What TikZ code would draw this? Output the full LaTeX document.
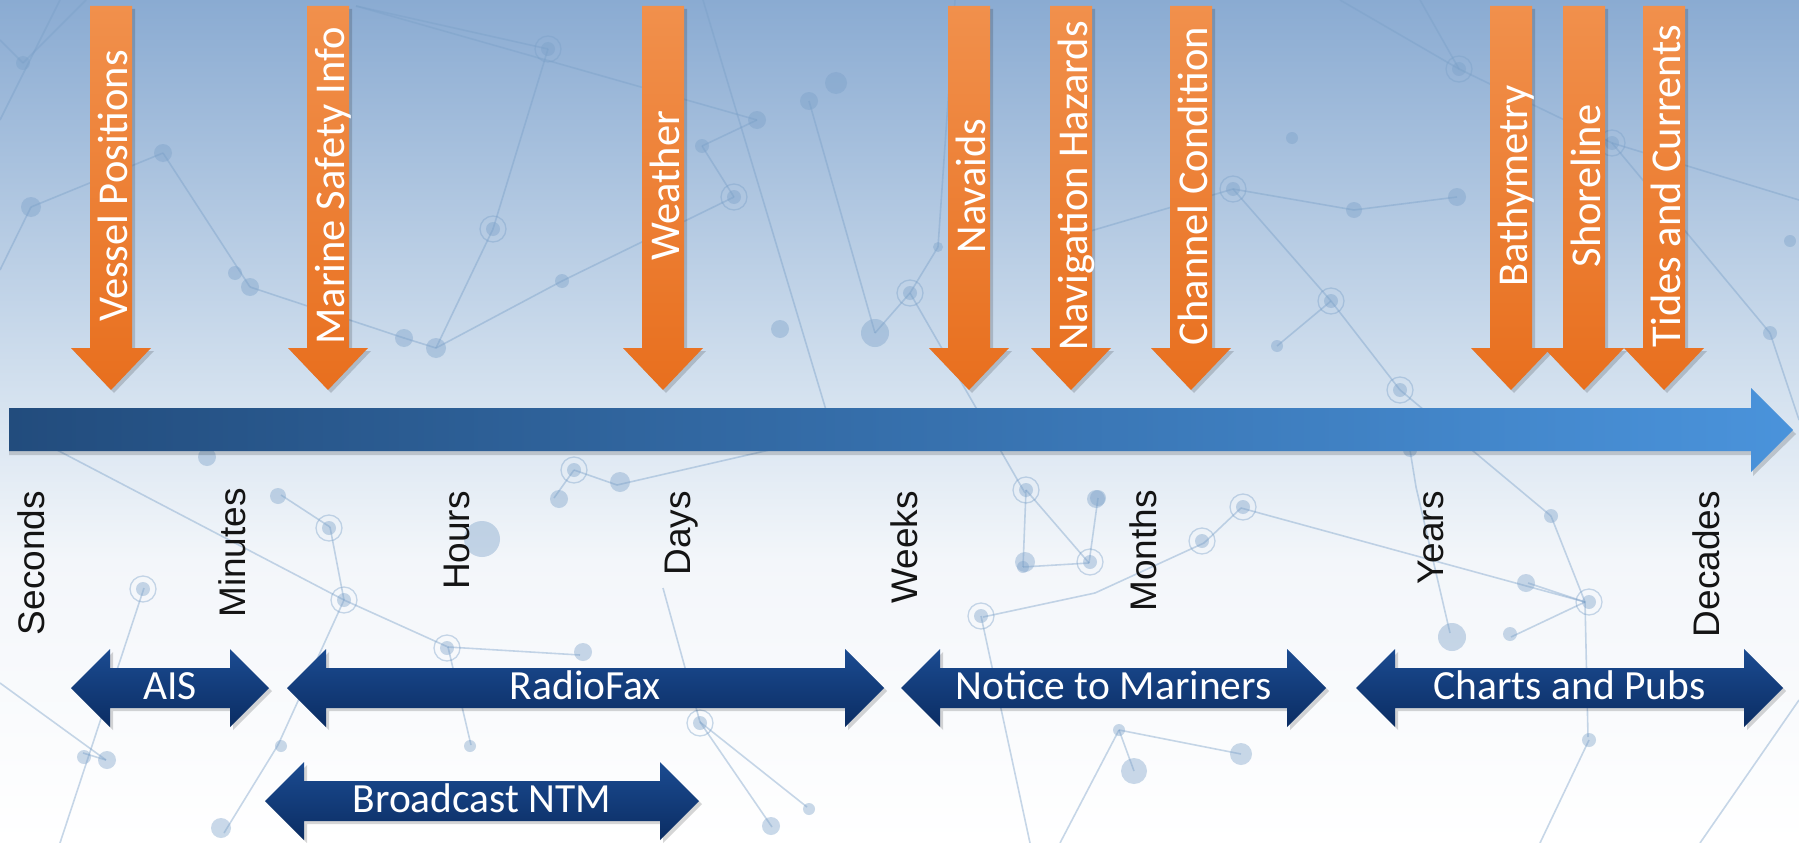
\documentclass[tikz,border=0pt]{standalone}
\usepackage{fontspec}
\setmainfont{Carlito}
\newfontfamily\timefont{Liberation Sans}
\definecolor{bgA}{HTML}{8AABD2}
\definecolor{bgB}{HTML}{D9E5F1}
\definecolor{bgC}{HTML}{F3F6FA}
\definecolor{orA}{HTML}{F1904C}
\definecolor{orB}{HTML}{E86F1E}
\definecolor{nvA}{HTML}{1B4B91}
\definecolor{nvB}{HTML}{0B2D63}
\definecolor{barA}{HTML}{224C7D}
\definecolor{barB}{HTML}{4A93DB}
\definecolor{net}{HTML}{7AA0C8}
\tikzset{
  orlabel/.style={text=white, rotate=90, anchor=mid, inner sep=0pt, font=\fontsize{42.5}{50}\selectfont},
  timelabel/.style={text=black!92, rotate=90, anchor=mid east, inner sep=0pt, font=\timefont\fontsize{37}{44}\selectfont},
  bluelabel/.style={text=white, anchor=mid, inner sep=0pt, font=\fontsize{41.5}{49}\selectfont},
  orfill/.style={top color=orA, bottom color=orB},
  bluefill/.style={top color=nvA, bottom color=nvB},
  shadowfill/.style={fill=black, opacity=0.16},
  netline/.style={draw=net, opacity=0.42, line width=1.6pt},
  netdot/.style={fill=net, opacity=0.4},
  netring/.style={draw=net, opacity=0.4, line width=1.3pt},
}
\newcommand\OrArr[3]{%
  \fill[shadowfill] (#2-21+3,-9) -- (#2+21+3,-9) -- (#2+21+3,-351) -- (#2+40+3,-351) -- (#2+3,-393) -- (#2-40+3,-351) -- (#2-21+3,-351) -- cycle;
  \shade[orfill] (#2-21,-6) -- (#2+21,-6) -- (#2+21,-348) -- (#2+40,-348) -- (#2,-390) -- (#2-40,-348) -- (#2-21,-348) -- cycle;
  \node[orlabel] (#1) at (#2+14,-186) {#3};}
\newcommand\DblArr[5]{%
  \fill[shadowfill] (#2+3,-#4-3) -- (#2+39+3,-#4+39-3) -- (#2+39+3,-#4+20-3) -- (#3-39+3,-#4+20-3) -- (#3-39+3,-#4+39-3) -- (#3+3,-#4-3) -- (#3-39+3,-#4-39-3) -- (#3-39+3,-#4-20-3) -- (#2+39+3,-#4-20-3) -- (#2+39+3,-#4-39-3) -- cycle;
  \shade[bluefill] (#2,-#4) -- (#2+39,-#4+39) -- (#2+39,-#4+20) -- (#3-39,-#4+20) -- (#3-39,-#4+39) -- (#3,-#4) -- (#3-39,-#4-39) -- (#3-39,-#4-20) -- (#2+39,-#4-20) -- (#2+39,-#4-39) -- cycle;
  \node[bluelabel] (#1) at ({(#2+#3)/2},{-#4-9}) {#5};}
\begin{document}
\begin{tikzpicture}[x=1pt,y=1pt]
\useasboundingbox (0,0) rectangle (1799,-843);
% background
\shade[top color=bgA,bottom color=bgB] (0,0) rectangle (1799,-420);
\shade[top color=bgB,bottom color=bgC] (0,-420) rectangle (1799,-560);
\shade[top color=bgC,bottom color=white] (0,-560) rectangle (1799,-843);
% network decoration
\begin{scope}
\clip (0,0) rectangle (1799,-843);
\foreach \xa/\ya/\xb/\yb in {23/63/86/0, 0/40/23/63, 31/207/163/153, 31/207/0/270,
  163/153/250/287, 250/287/404/338, 404/338/436/348, 436/348/493/229, 493/229/548/49,
  548/49/356/6, 356/6/757/120, 757/120/702/146, 702/146/734/197, 734/197/562/281,
  562/281/436/348, 809/101/875/333, 875/333/910/293, 910/293/938/247, 938/247/955/0,
  910/293/1025/493, 703/0/826/410, 1233/189/1354/210, 1233/189/1331/301, 1233/189/1060/240,
  1331/301/1277/346, 1331/301/1400/390, 1354/210/1457/197, 1459/69/1612/143, 1459/69/1420/0,
  1459/69/1340/0, 1612/143/1799/200, 1612/143/1770/333, 1400/390/1551/516, 1551/516/1585/602,
  1528/583/1585/602, 1511/637/1585/602, 1588/737/1585/602, 1241/508/1585/602, 1204/543/1241/508,
  1095/593/1204/543, 983/617/1095/593, 1026/490/1023/567, 1023/567/1089/563, 1026/490/1089/563,
  1089/563/1098/498, 1416/487/1410/450, 1416/487/1450/633, 57/450/344/600, 344/600/330/527,
  330/527/281/495, 344/600/448/647, 448/647/471/745, 448/647/580/655, 574/470/617/485,
  617/485/900/420, 554/498/574/470, 0/683/106/760, 106/760/83/753, 700/722/807/807,
  700/722/772/827, 700/722/663/588, 224/833/278/745, 278/745/344/600, 1119/730/1134/771,
  1119/730/1241/754, 981/616/1030/843, 1119/730/1060/843, 1589/740/1540/843, 1770/333/1799/420,
  0/120/60/0, 1700/843/1799/700, 144/588/60/843}
  \draw[netline] (\xa,-\ya) -- (\xb,-\yb);
\foreach \xa/\ya/\r in {23/63/7, 31/207/10, 163/153/9, 250/287/9, 235/273/7, 404/338/9,
  436/348/10, 562/281/7, 620/482/10, 702/146/7, 757/120/9, 836/83/11, 809/101/9, 875/333/14,
  780/329/9, 938/247/5, 1277/346/6, 1292/138/6, 1354/210/8, 1457/197/9, 1770/333/7,
  1790/241/6, 1510/634/7, 1452/637/14, 1526/583/9, 1551/516/7, 1025/562/10, 1096/499/9,
  1134/771/13, 1241/754/11, 1119/730/6, 1589/740/7, 84/757/7, 107/760/9, 221/828/10,
  281/746/6, 470/746/6, 809/809/6, 771/826/9, 278/496/8, 207/457/9, 559/499/9, 482/539/18,
  1410/450/7, 1023/567/6, 1098/498/8, 583/652/9}
  \fill[netdot] (\xa,-\ya) circle (\r);
\foreach \xa/\ya in {548/49, 493/229, 734/197, 910/293, 1233/189, 1331/301, 1459/69, 1612/143,
  1400/390, 1589/602, 1243/507, 1090/562, 1026/490, 981/616, 1202/541, 344/600, 329/528,
  143/589, 574/470, 700/723, 447/648}
  {\draw[netring] (\xa,-\ya) circle (13); \fill[netdot] (\xa,-\ya) circle (7);}
\end{scope}
% main time axis arrow
\fill[shadowfill] (9,-412) -- (1753,-412) -- (1753,-392) -- (1796,-434) -- (1753,-476) -- (1753,-455) -- (9,-455) -- cycle;
\shade[left color=barA, right color=barB] (9,-408) -- (1751,-408) -- (1751,-388) -- (1793,-430) -- (1751,-472) -- (1751,-451) -- (9,-451) -- cycle;
% orange information arrows
\OrArr{vessel}{111}{Vessel Positions}
\OrArr{msi}{328}{Marine Safety Info}
\OrArr{weather}{663}{Weather}
\OrArr{navaids}{969}{Navaids}
\OrArr{navhaz}{1071}{Navigation Hazards}
\OrArr{channel}{1191}{Channel Condition}
\OrArr{bathy}{1511}{Bathymetry}
\OrArr{shore}{1584}{Shoreline}
\OrArr{tides}{1664}{Tides and Currents}
% time scale labels
\node[timelabel] (seconds) at (42.5,-491) {Seconds};
\node[timelabel] (minutes) at (243.5,-488) {Minutes};
\node[timelabel] (hours) at (467.5,-491) {Hours};
\node[timelabel] (days) at (688.5,-491) {Days};
\node[timelabel] (weeks) at (915.5,-491) {Weeks};
\node[timelabel] (months) at (1154.5,-490) {Months};
\node[timelabel] (years) at (1441.5,-491) {Years};
\node[timelabel] (decades) at (1717.5,-491) {Decades};
% product range double arrows
\DblArr{ais}{71}{269}{688}{AIS}
\DblArr{radiofax}{287}{884}{688}{RadioFax}
\DblArr{ntm}{901}{1326}{688}{Notice to Mariners}
\DblArr{charts}{1356}{1783}{688}{Charts and Pubs}
\DblArr{bntm}{265}{699}{801}{Broadcast NTM}
\end{tikzpicture}
\end{document}
